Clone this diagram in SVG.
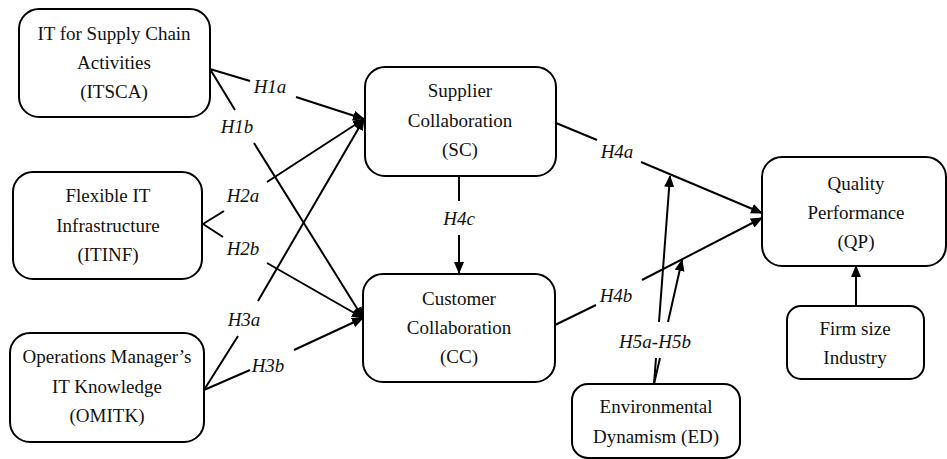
<svg xmlns="http://www.w3.org/2000/svg" width="947" height="459" viewBox="0 0 947 459">
<style>
.box{fill:#fff;stroke:#000;stroke-width:2}
text{font-family:'Liberation Serif','Times New Roman',Times,'DejaVu Serif',serif;font-size:19px;fill:#111;text-anchor:middle}
.l{font-style:italic}
.c{fill:none;stroke:#000;stroke-width:2}
.c path{marker-end:url(#arr)}
</style>
<defs>
<marker id="arr" markerUnits="userSpaceOnUse" markerWidth="12" markerHeight="10" refX="11" refY="5" orient="auto"><path d="M0,0 L12,5 L0,10 z" fill="#000"/></marker>
</defs>
<rect width="947" height="459" fill="#fff"/>
<g id="ITSCA">
<rect class="box" x="19" y="9" width="191" height="108" rx="20"/>
<text x="114" y="40" font-family="Liberation Serif, serif">IT for Supply Chain</text>
<text x="114" y="69" font-family="Liberation Serif, serif">Activities</text>
<text x="114" y="98" font-family="Liberation Serif, serif">(ITSCA)</text>
</g>
<g id="ITINF">
<rect class="box" x="13" y="172" width="189" height="107" rx="20"/>
<text x="108" y="202">Flexible IT</text>
<text x="108" y="232">Infrastructure</text>
<text x="108" y="261">(ITINF)</text>
</g>
<g id="OMITK">
<rect class="box" x="10" y="333" width="194" height="109" rx="20"/>
<text x="107" y="363">Operations Manager’s</text>
<text x="107" y="393">IT Knowledge</text>
<text x="107" y="422">(OMITK)</text>
</g>
<g id="SC">
<rect class="box" x="365" y="67" width="191" height="109" rx="20"/>
<text x="460" y="97">Supplier</text>
<text x="460" y="127">Collaboration</text>
<text x="460" y="156">(SC)</text>
</g>
<g id="CC">
<rect class="box" x="363" y="274" width="192" height="108" rx="20"/>
<text x="459" y="305">Customer</text>
<text x="459" y="334">Collaboration</text>
<text x="459" y="363">(CC)</text>
</g>
<g id="QP">
<rect class="box" x="762" y="157" width="184" height="109" rx="20"/>
<text x="856" y="190">Quality</text>
<text x="856" y="219">Performance</text>
<text x="856" y="248">(QP)</text>
</g>
<g id="FIRM">
<rect class="box" x="787" y="306" width="137" height="73" rx="14"/>
<text x="855" y="335">Firm size</text>
<text x="855" y="364">Industry</text>
</g>
<g id="ED">
<rect class="box" x="572" y="384" width="168" height="74" rx="16"/>
<text x="656" y="413">Environmental</text>
<text x="656" y="443">Dynamism (ED)</text>
</g>
<g id="connectors" class="c">
<path d="M210,69 L250,81 M296,97 L364,119"/>
<path d="M210,69 L235,110 M254,143 L363,318"/>
<path d="M203,224 L224,211 M267,182 L364,119"/>
<path d="M203,224 L223,237 M267,263 L363,318"/>
<path d="M204,390 L238,336 M258,301 L364,119"/>
<path d="M204,390 L250,370 M294,350 L363,318"/>
<path d="M459,176 L459,201 M459,235 L459,273"/>
<path d="M556,123 L597,140 M641,162 L762,213"/>
<path d="M555,325 L596,305 M642,280 L762,218"/>
<path d="M654,384 L656,358 M659,322 L670,176"/>
<path d="M654,384 L660,358 M668,322 L682,260"/>
<path d="M856,306 L856,266"/>
</g>
<g id="labels">
<text class="l" x="270" y="93">H1a</text>
<text class="l" x="237" y="133">H1b</text>
<text class="l" x="243" y="202">H2a</text>
<text class="l" x="243" y="255">H2b</text>
<text class="l" x="244" y="326">H3a</text>
<text class="l" x="268" y="372">H3b</text>
<text class="l" x="459" y="225">H4c</text>
<text class="l" x="617" y="158">H4a</text>
<text class="l" x="616" y="302">H4b</text>
<text class="l" x="655" y="348">H5a-H5b</text>
</g>
</svg>
